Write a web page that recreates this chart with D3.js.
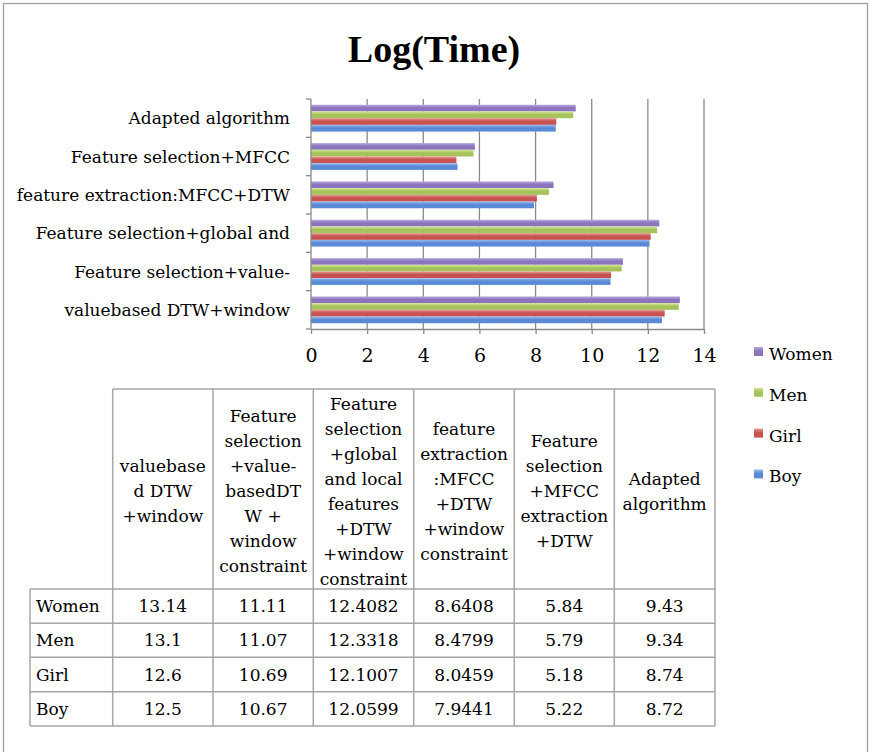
<!DOCTYPE html>
<html>
<head>
<meta charset="utf-8">
<script src="https://cdn.jsdelivr.net/npm/d3@7"></script>
<style>
  html, body { margin: 0; padding: 0; background: #fff; }
  svg { display: block; }
</style>
</head>
<body>
<script>
// ---------- DATA ----------
const categories = [
  "valuebased DTW+window",
  "Feature selection+value-",
  "Feature selection+global and",
  "feature extraction:MFCC+DTW",
  "Feature selection+MFCC",
  "Adapted algorithm"
];
const seriesNames = ["Women", "Men", "Girl", "Boy"];
const women = [13.14, 11.11, 12.4082, 8.6408, 5.84, 9.43];
const men   = [13.1, 11.07, 12.3318, 8.4799, 5.79, 9.34];
const girl  = [12.6, 10.69, 12.1007, 8.0459, 5.18, 8.74];
const boy   = [12.5, 10.67, 12.0599, 7.9441, 5.22, 8.72];
const womenText = ["13.14", "11.11", "12.4082", "8.6408", "5.84", "9.43"];
const menText   = ["13.1", "11.07", "12.3318", "8.4799", "5.79", "9.34"];
const girlText  = ["12.6", "10.69", "12.1007", "8.0459", "5.18", "8.74"];
const boyText   = ["12.5", "10.67", "12.0599", "7.9441", "5.22", "8.72"];
const xTicks = [0, 2, 4, 6, 8, 10, 12, 14];
const tableHeaders = [
  ["valuebase", "d DTW", "+window"],
  ["Feature", "selection", "+value-", "basedDT", "W +", "window", "constraint"],
  ["Feature", "selection", "+global", "and local", "features", "+DTW", "+window", "constraint"],
  ["feature", "extraction", ":MFCC", "+DTW", "+window", "constraint"],
  ["Feature", "selection", "+MFCC", "extraction", "+DTW"],
  ["Adapted", "algorithm"]
];
const title = "Log(Time)";

// ---------- SETUP ----------
const W = 870, H = 752;
const serif = "'DejaVu Serif', serif";
const colors = {
  Women: ["#b9aadf", "#8a74bd"],
  Men:   ["#d6e89c", "#a5c35a"],
  Girl:  ["#e69a97", "#c75350"],
  Boy:   ["#9bbcf0", "#5a8ad5"]
};
const valuesBySeries = { Women: women, Men: men, Girl: girl, Boy: boy };
const textBySeries = { Women: womenText, Men: menText, Girl: girlText, Boy: boyText };

const svg = d3.select("body").append("svg").attr("width", W).attr("height", H);

const defs = svg.append("defs");
seriesNames.forEach(s => {
  const g = defs.append("linearGradient").attr("id", "grad-" + s)
    .attr("x1", 0).attr("y1", 0).attr("x2", 0).attr("y2", 1);
  g.append("stop").attr("offset", "0%").attr("stop-color", colors[s][0]);
  g.append("stop").attr("offset", "45%").attr("stop-color", colors[s][1]);
  g.append("stop").attr("offset", "100%").attr("stop-color", colors[s][1]);
});

// outer frame
svg.append("rect").attr("x", 3.5).attr("y", 3.5).attr("width", 864).attr("height", 800)
  .attr("fill", "none").attr("stroke", "#a0a0a0").attr("stroke-width", 1.3);

// title
svg.append("text").attr("x", 434).attr("y", 62).attr("text-anchor", "middle")
  .attr("font-family", "'Liberation Serif', serif").attr("font-weight", "bold")
  .attr("font-size", 38).attr("fill", "#000").text(title);

// ---------- CHART ----------
const x = d3.scaleLinear().domain([0, 14]).range([311, 704]);
const y = d3.scaleBand().domain(categories.slice().reverse()).range([99, 329])
  .paddingInner(0.3).paddingOuter(0.15);
const ySub = d3.scaleBand().domain(seriesNames).range([0, y.bandwidth()]);

// gridlines
svg.append("g").selectAll("line").data(xTicks.filter(d => d > 0)).join("line")
  .attr("x1", d => x(d)).attr("x2", d => x(d))
  .attr("y1", 99).attr("y2", 329)
  .attr("stroke", "#8a8a8a").attr("stroke-width", 1.3);

// bars
const catG = svg.append("g").selectAll("g").data(categories).join("g")
  .attr("transform", c => `translate(0,${y(c)})`);
catG.selectAll("rect").data((c, i) => seriesNames.map(s => ({ s, v: valuesBySeries[s][i] })))
  .join("rect")
  .attr("x", x(0))
  .attr("y", d => ySub(d.s))
  .attr("width", d => x(d.v) - x(0))
  .attr("height", ySub.bandwidth())
  .attr("fill", d => `url(#grad-${d.s})`);

// bottom axis
const xAxis = svg.append("g").attr("transform", "translate(0,329)")
  .call(d3.axisBottom(x).tickValues(xTicks).tickSize(5).tickPadding(15).tickSizeOuter(0));
xAxis.select(".domain").attr("stroke", "#8a8a8a").attr("stroke-width", 1.3);
xAxis.selectAll(".tick line").attr("stroke", "#8a8a8a").attr("stroke-width", 1.3);
xAxis.selectAll(".tick text").attr("font-family", serif).attr("font-size", 19).attr("fill", "#000");

// left axis (boundaries ticks)
const yAxisG = svg.append("g");
yAxisG.append("line").attr("x1", x(0)).attr("x2", x(0)).attr("y1", 99).attr("y2", 329)
  .attr("stroke", "#8a8a8a").attr("stroke-width", 1.3);
const bounds = categories.map(c => y(c) - y.step() * y.paddingInner() / 2);
bounds.push(329);
yAxisG.selectAll("line.tk").data(bounds).join("line").attr("class", "tk")
  .attr("x1", x(0) - 5).attr("x2", x(0)).attr("y1", d => d).attr("y2", d => d)
  .attr("stroke", "#8a8a8a").attr("stroke-width", 1.3);
yAxisG.selectAll("text").data(categories).join("text")
  .attr("x", 290).attr("y", c => y(c) + y.bandwidth() / 2 + 6)
  .attr("text-anchor", "end").attr("font-family", serif).attr("font-size", 17)
  .attr("fill", "#000").text(c => c);

// legend
const leg = svg.append("g").selectAll("g").data(seriesNames).join("g")
  .attr("transform", (d, i) => `translate(754,${347 + i * 40.8})`);
leg.append("rect").attr("width", 9).attr("height", 9).attr("fill", d => `url(#grad-${d})`);
leg.append("text").attr("x", 15).attr("y", 13).attr("font-family", serif)
  .attr("font-size", 17).attr("fill", "#000").text(d => d);

// ---------- TABLE ----------
const colX = [30, 112.7, 213, 313.3, 413.7, 514.3, 614.3, 715];
const headTop = 389, headBot = 589;
const rowY = [589, 623.3, 657.3, 691.7, 726];
const lineC = "#a6a6a6";
const tg = svg.append("g").attr("stroke", lineC).attr("stroke-width", 1.5);
// horizontal lines
tg.append("line").attr("x1", colX[1]).attr("x2", colX[7]).attr("y1", headTop).attr("y2", headTop);
rowY.forEach(yy => tg.append("line").attr("x1", colX[0]).attr("x2", colX[7]).attr("y1", yy).attr("y2", yy));
// vertical lines
tg.append("line").attr("x1", colX[0]).attr("x2", colX[0]).attr("y1", headBot).attr("y2", rowY[4]);
colX.slice(1).forEach(xx => tg.append("line").attr("x1", xx).attr("x2", xx).attr("y1", headTop).attr("y2", rowY[4]));

// header text
const hCenter = 491, lh = 25;
tableHeaders.forEach((lines, j) => {
  const cx = (colX[j + 1] + colX[j + 2]) / 2;
  lines.forEach((ln, k) => {
    svg.append("text").attr("x", cx)
      .attr("y", hCenter + (k - (lines.length - 1) / 2) * lh + 6)
      .attr("text-anchor", "middle").attr("font-family", serif).attr("font-size", 17)
      .attr("fill", "#000").text(ln);
  });
});
// data rows
seriesNames.forEach((s, r) => {
  const cy = (rowY[r] + rowY[r + 1]) / 2 + 6;
  svg.append("text").attr("x", 36).attr("y", cy).attr("font-family", serif)
    .attr("font-size", 17).attr("fill", "#000").text(s);
  textBySeries[s].forEach((t, j) => {
    svg.append("text").attr("x", (colX[j + 1] + colX[j + 2]) / 2).attr("y", cy)
      .attr("text-anchor", "middle").attr("font-family", serif).attr("font-size", 17)
      .attr("fill", "#000").text(t);
  });
});
</script>
</body>
</html>
